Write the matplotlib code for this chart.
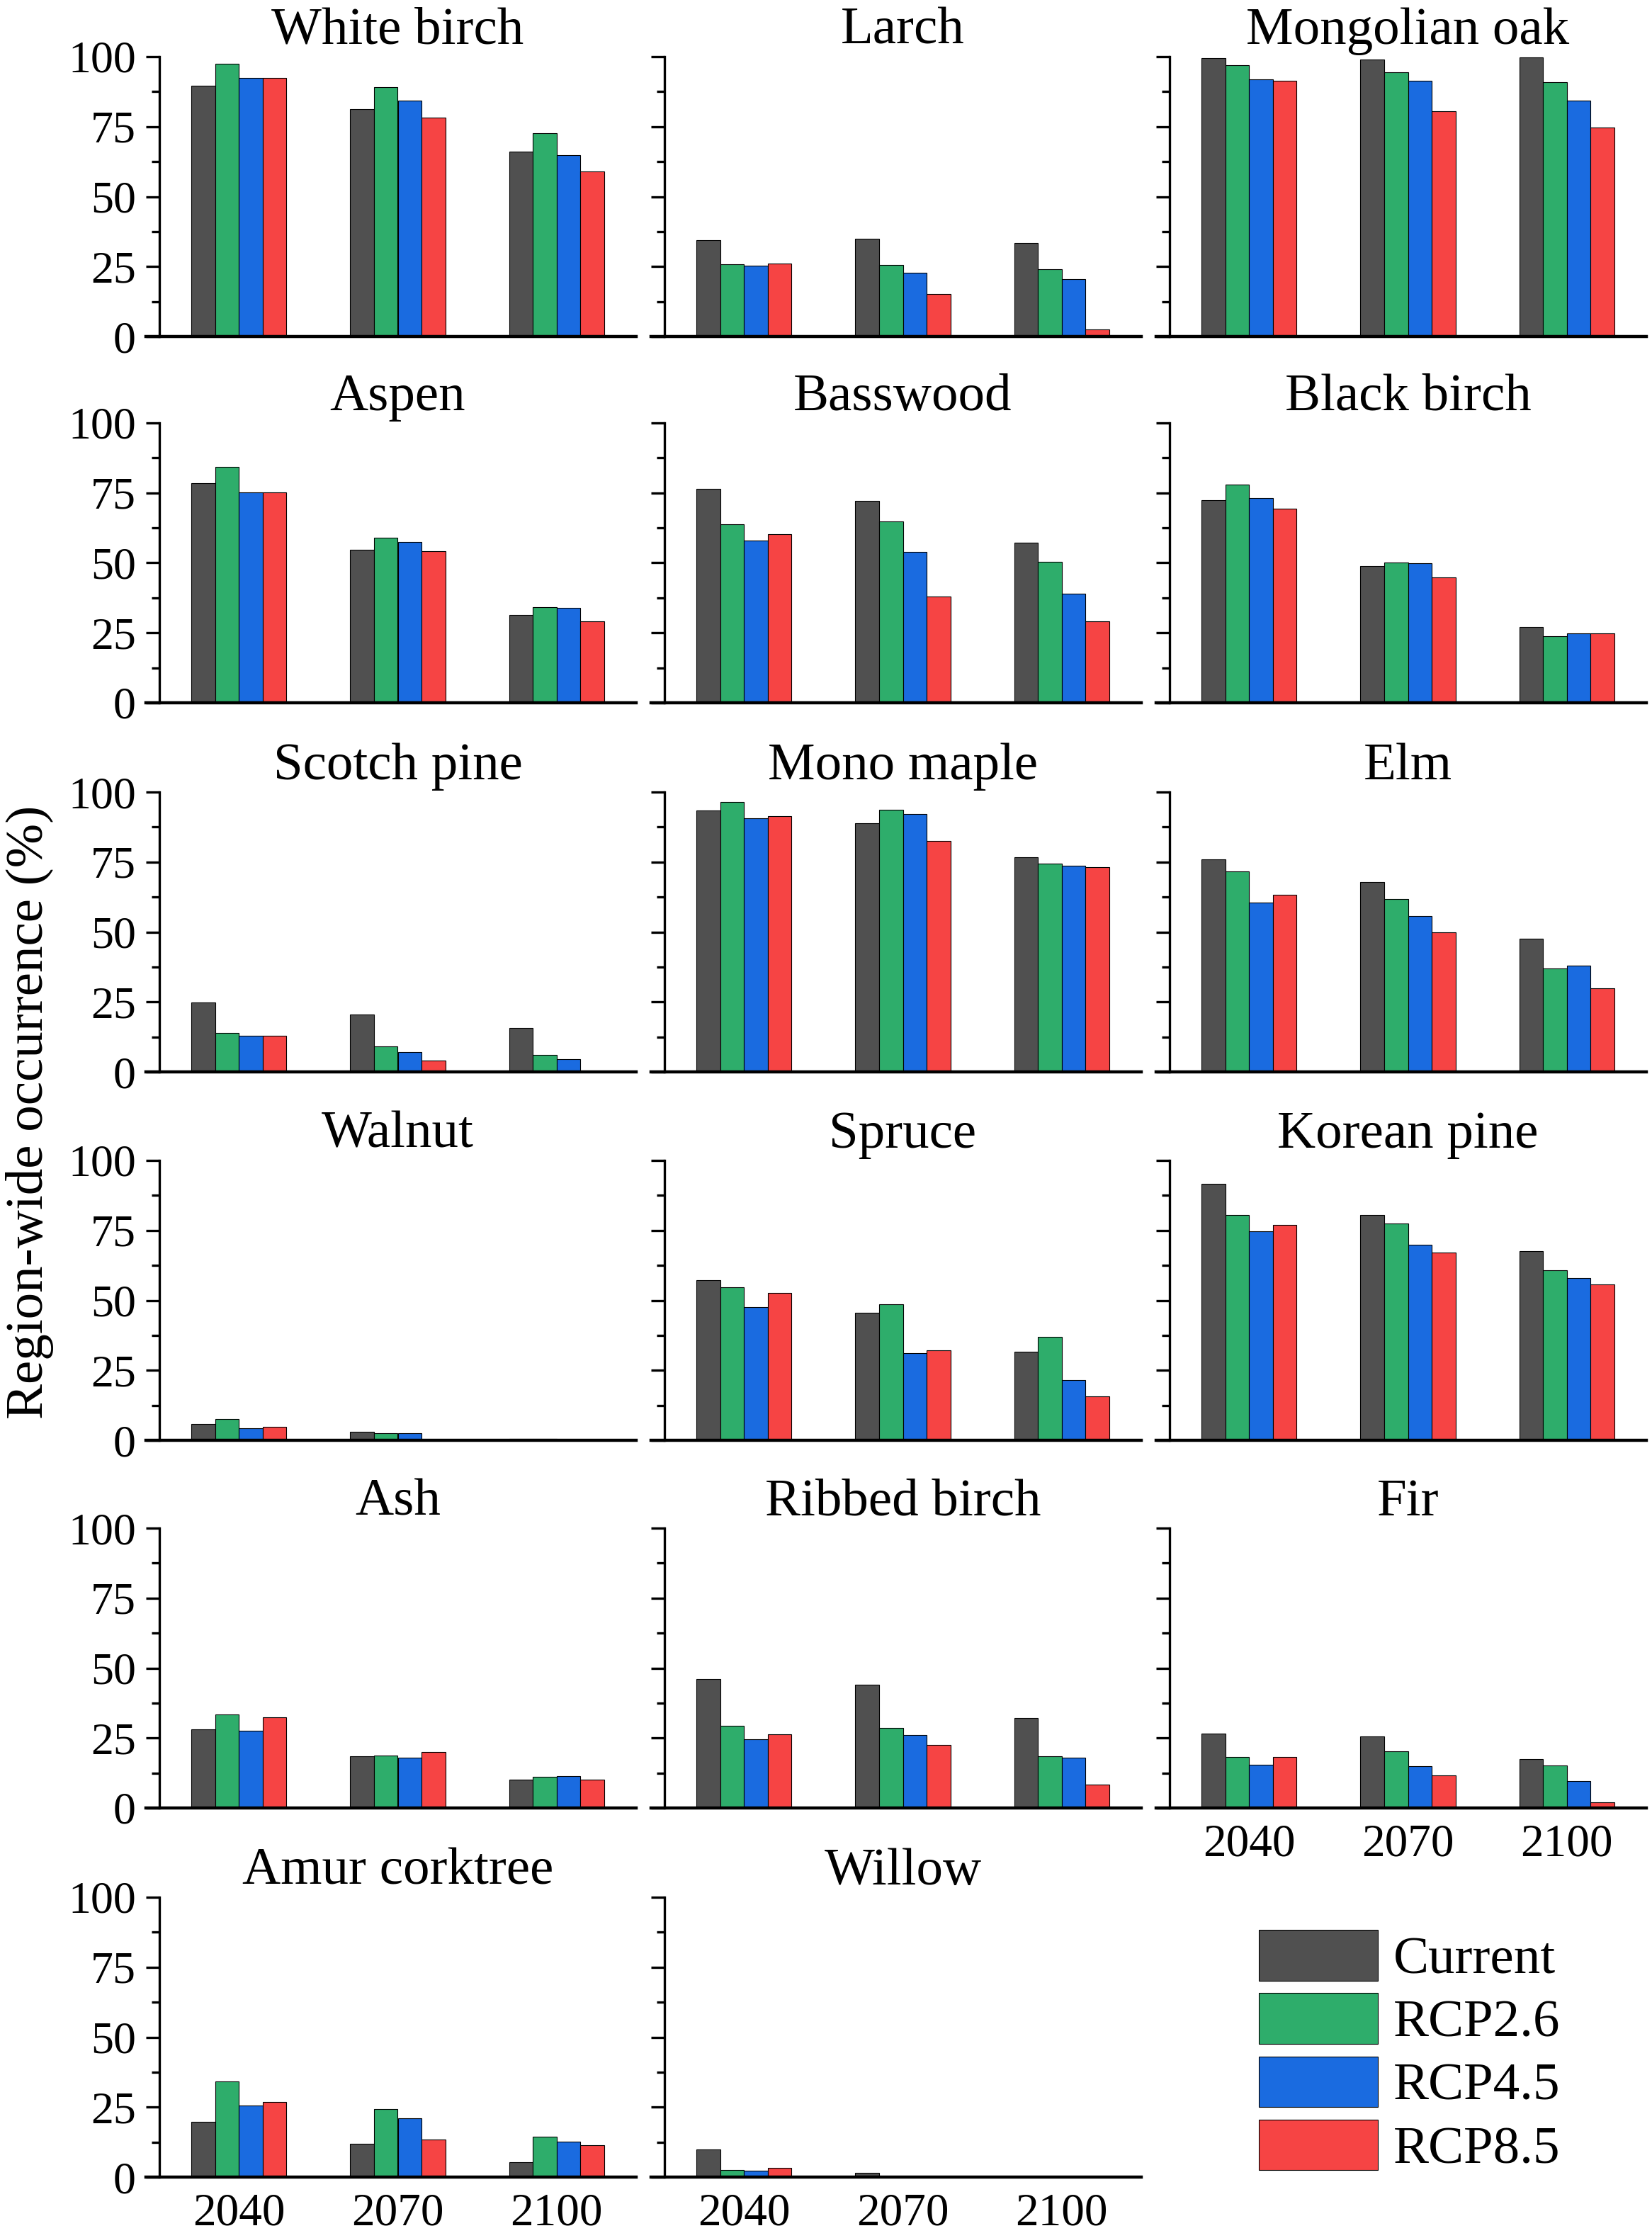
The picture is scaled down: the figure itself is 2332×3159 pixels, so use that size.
import numpy as np
import matplotlib.pyplot as plt
from matplotlib.ticker import MultipleLocator

plt.rcParams['font.family'] = ['Liberation Serif', 'DejaVu Serif']

years = ['2040', '2070', '2100']
scenarios = ['Current', 'RCP2.6', 'RCP4.5', 'RCP8.5']
colors = ['#505050', '#2EAD6B', '#1A6BE0', '#F64444']

# rows = years, columns = scenarios (Current, RCP2.6, RCP4.5, RCP8.5)
white_birch = [[89.6, 97.4, 92.3, 92.5], [81.3, 89.0, 84.2, 78.3], [66.0, 72.6, 64.7, 58.9]]
larch = [[34.4, 25.7, 25.2, 26.2], [34.9, 25.5, 22.7, 15.3], [33.4, 24.0, 20.4, 2.6]]
mongolian_oak = [[99.4, 96.9, 91.8, 91.5], [98.9, 94.4, 91.5, 80.4], [99.7, 90.8, 84.4, 74.8]]
aspen = [[78.4, 84.3, 75.1, 75.1], [54.6, 58.9, 57.4, 54.1], [31.3, 34.1, 33.8, 29.0]]
basswood = [[76.4, 63.7, 57.9, 60.2], [72.1, 64.8, 53.8, 37.9], [57.1, 50.5, 38.9, 29.0]]
black_birch = [[72.4, 77.9, 73.1, 69.3], [48.8, 50.0, 49.8, 44.7], [27.2, 23.9, 24.7, 24.9]]
scotch_pine = [[24.9, 13.8, 12.8, 12.8], [20.6, 9.2, 7.2, 4.1], [15.6, 6.2, 4.6, 0.0]]
mono_maple = [[93.4, 96.4, 90.6, 91.4], [88.8, 93.7, 92.1, 82.5], [76.7, 74.4, 73.6, 73.1]]
elm = [[75.9, 71.6, 60.4, 63.2], [67.8, 61.7, 55.6, 50.0], [47.5, 36.9, 38.1, 30.0]]
walnut = [[5.9, 7.5, 4.4, 4.9], [3.1, 2.6, 2.6, 0.0], [0.6, 0.6, 0.0, 0.0]]
spruce = [[57.3, 54.7, 47.6, 52.7], [45.6, 48.6, 31.1, 32.1], [31.6, 36.9, 21.4, 15.8]]
korean_pine = [[91.6, 80.4, 74.6, 76.9], [80.4, 77.4, 70.0, 67.2], [67.7, 60.8, 58.1, 55.8]]
ash = [[28.1, 33.4, 27.6, 32.4], [18.4, 18.7, 17.9, 19.9], [10.1, 11.1, 11.3, 10.1]]
ribbed_birch = [[46.1, 29.3, 24.5, 26.3], [44.0, 28.6, 26.0, 22.5], [32.1, 18.4, 17.9, 8.3]]
fir = [[26.5, 18.2, 15.4, 18.2], [25.5, 20.2, 14.9, 11.6], [17.4, 15.1, 9.6, 1.9]]
amur_corktree = [[19.8, 34.1, 25.6, 26.9], [11.9, 24.3, 21.1, 13.4], [5.3, 14.4, 12.7, 11.4]]
willow = [[9.9, 2.6, 2.3, 3.4], [1.5, 0.0, 0.0, 0.0], [0.0, 0.0, 0.0, 0.0]]

species = [
    ('White birch', white_birch), ('Larch', larch), ('Mongolian oak', mongolian_oak),
    ('Aspen', aspen), ('Basswood', basswood), ('Black birch', black_birch),
    ('Scotch pine', scotch_pine), ('Mono maple', mono_maple), ('Elm', elm),
    ('Walnut', walnut), ('Spruce', spruce), ('Korean pine', korean_pine),
    ('Ash', ash), ('Ribbed birch', ribbed_birch), ('Fir', fir),
    ('Amur corktree', amur_corktree), ('Willow', willow),
]
with_xlabels = ['Fir', 'Amur corktree', 'Willow']

W, H = 2332, 3159
fig = plt.figure(figsize=(W / 100, H / 100), dpi=100)

col_left = [225, 938, 1651]
col_w = 673
row_top = [80, 597, 1118, 1638, 2157, 2678]
row_h = 395

x = np.arange(len(years))
bw = 0.15

for i, (name, vals) in enumerate(species):
    r, c = divmod(i, 3)
    ax = fig.add_axes([col_left[c] / W, 1 - (row_top[r] + row_h) / H, col_w / W, row_h / H])
    vals = np.array(vals)
    for k in range(len(scenarios)):
        ax.bar(x + (k - 1.5) * bw, vals[:, k], bw, color=colors[k],
               edgecolor='black', linewidth=0.8, label=scenarios[k])
    ax.set_xlim(-0.5, 2.5)
    ax.set_ylim(0, 100)
    ax.yaxis.set_major_locator(MultipleLocator(25))
    ax.yaxis.set_minor_locator(MultipleLocator(12.5))
    ax.spines['top'].set_visible(False)
    ax.spines['right'].set_visible(False)
    ax.spines['left'].set_linewidth(2.4)
    ax.spines['bottom'].set_linewidth(3.2)
    # bottom axis line runs out under the tick marks, like the original
    ax.spines['bottom'].set_bounds(-0.585, 2.5)
    ax.tick_params(axis='y', which='major', direction='out', length=14, width=2.4,
                   labelsize=46, pad=10)
    ax.tick_params(axis='y', which='minor', direction='out', length=8, width=2.4)
    ax.set_xticks(x)
    if name in with_xlabels:
        ax.set_xticklabels(years)
    else:
        ax.set_xticklabels([])
    ax.tick_params(axis='x', length=0, labelsize=47, pad=16)
    if c != 0:
        ax.set_yticklabels([])
    ax.set_title(name, fontsize=54, pad=13)

fig.text(0.018, 1 - 1570 / H, 'Region-wide occurrence (%)', rotation=90,
         fontsize=54, ha='center', va='center')

handles, labels = ax.get_legend_handles_labels()
fig.legend(handles, labels, loc='upper left', bbox_to_anchor=(1777 / W, 1 - 2724 / H),
           frameon=False, fontsize=54, handlelength=2.24, handleheight=1.09,
           labelspacing=0.16, handletextpad=0.29, borderpad=0, borderaxespad=0)

fig.savefig('out.png', dpi=100)
